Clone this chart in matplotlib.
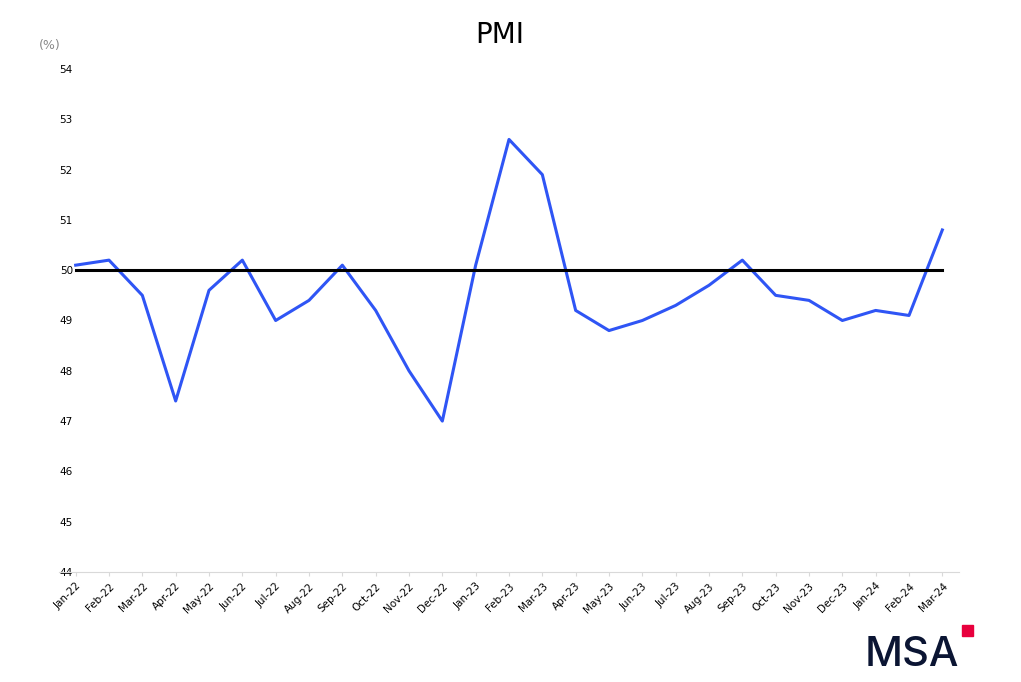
import matplotlib
matplotlib.use("Agg")
import matplotlib.pyplot as plt
import matplotlib.patches as mpatches

months = ["Jan-22","Feb-22","Mar-22","Apr-22","May-22","Jun-22","Jul-22","Aug-22","Sep-22","Oct-22","Nov-22","Dec-22",
          "Jan-23","Feb-23","Mar-23","Apr-23","May-23","Jun-23","Jul-23","Aug-23","Sep-23","Oct-23","Nov-23","Dec-23",
          "Jan-24","Feb-24","Mar-24"]
pmi = [50.1,50.2,49.5,47.4,49.6,50.2,49.0,49.4,50.1,49.2,48.0,47.0,
       50.1,52.6,51.9,49.2,48.8,49.0,49.3,49.7,50.2,49.5,49.4,49.0,
       49.2,49.1,50.8]
threshold = 50

fig = plt.figure(figsize=(10.21, 6.82), dpi=100)
ax = fig.add_axes([59/1021, 1-572/682, (959-59)/1021, (572-69)/682])
x = list(range(len(months)))
ax.plot(x, pmi, color="#2f55f5", lw=2.2)
ax.plot([0, len(months)-1], [threshold]*2, color="black", lw=2.2)
ax.set_xlim(-0.5, len(months)-0.5)
ax.set_ylim(44, 54)
ax.set_yticks(range(44, 55))
ax.set_xticks(x)
ax.set_xticklabels(months, rotation=45, ha="right", rotation_mode="anchor", fontsize=7.5)
ax.tick_params(axis="y", length=0, labelsize=7.5, pad=-10)
ax.tick_params(axis="x", length=3, color="#d9d9d9")
for s in ["top", "right", "left"]:
    ax.spines[s].set_visible(False)
ax.spines["bottom"].set_color("#d9d9d9")
fig.text(500/1021, 1-35/682, "PMI", fontsize=20, ha="center", va="center")
fig.text(50/1021, 1-45/682, "(%)", fontsize=9, ha="center", va="center", color="#888888")
fig.text(912/1021, 1-655/682, "MSA", fontsize=30, ha="center", va="center", color="#0b1533",
         fontweight="medium", family="Inter")
fig.patches.append(mpatches.Rectangle((962/1021, 1-636/682), 11/1021, 11/682,
                                      transform=fig.transFigure, color="#e8003d"))
fig.savefig("out.png", dpi=100)
